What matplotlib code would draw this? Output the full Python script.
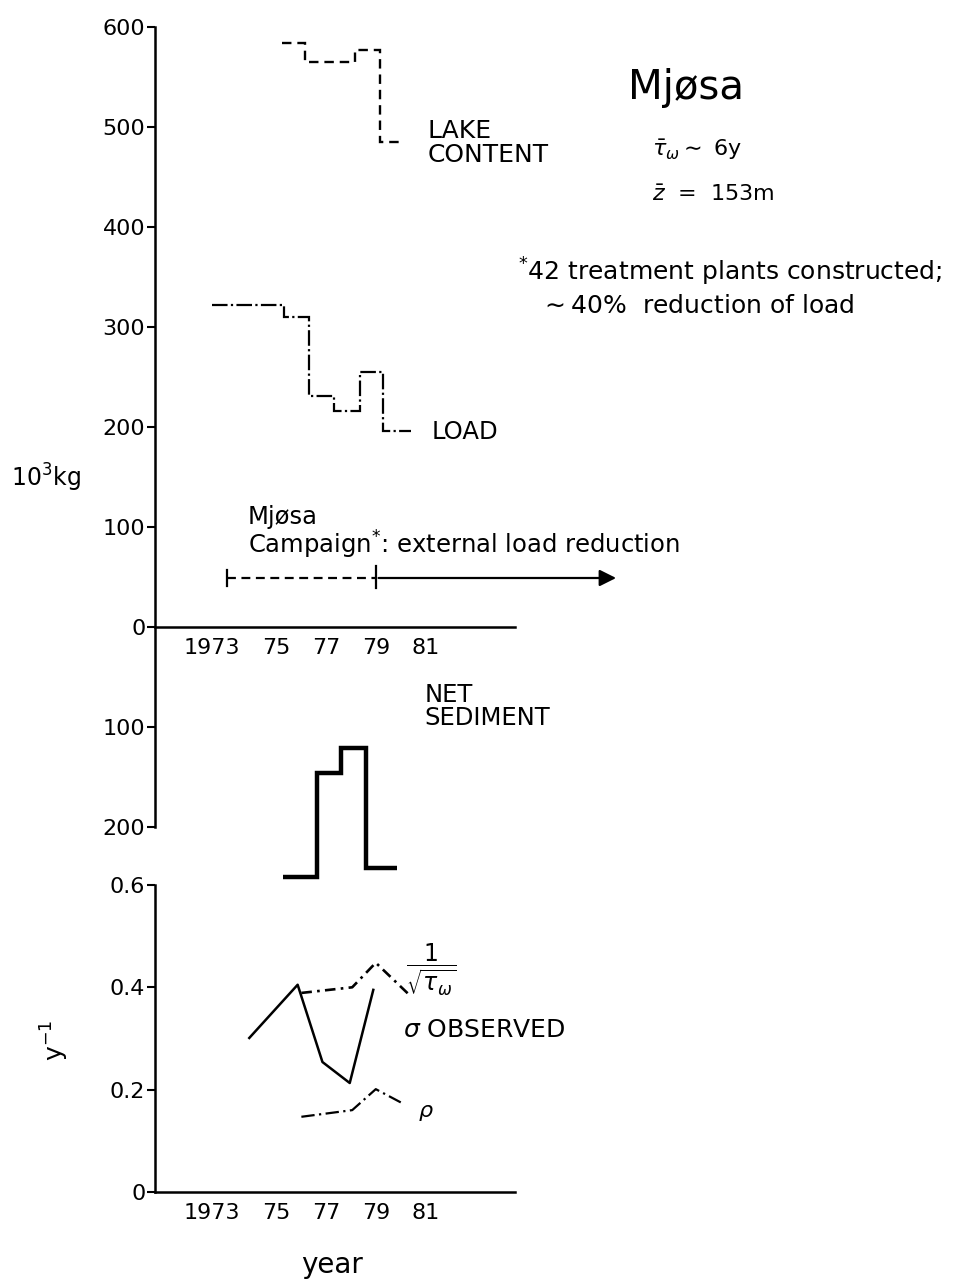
import matplotlib
matplotlib.use('Agg')
import matplotlib.pyplot as plt
import matplotlib.transforms as mtransforms

plt.rcParams['font.family'] = ['DejaVu Sans']
plt.rcParams['mathtext.fontset'] = 'dejavusans'

# --- data ---
year_ticks = [1973, 1975, 1977, 1979, 1981]
year_labels = ['1973', '75', '77', '79', '81']

# step series (10^3 kg), edges in years
lake_edges = [1975.2, 1976.15, 1978.15, 1979.15, 1980.1]
lake_values = [584, 565, 577, 485]

load_edges = [1972.4, 1975.3, 1976.3, 1977.3, 1978.35, 1979.3, 1980.4]
load_values = [322, 310, 231, 216, 255, 196]

# net sediment plotted downward
sed_edges = [1975.25, 1976.65, 1977.6, 1978.6, 1979.85]
sed_values = [250, 146, 121, 241]

# campaign arrow
campaign_start = 1973
campaign_switch = 1979
campaign_end = 1988.8
campaign_level = 49

# rates (y^-1)
sigma_years = [1973.9, 1975.85, 1976.85, 1977.95, 1978.9]
sigma_values = [0.301, 0.405, 0.254, 0.213, 0.395]

flush_years = [1976.0, 1978.05, 1979.0, 1980.4]
flush_values = [0.389, 0.400, 0.448, 0.383]

rho_years = [1976.0, 1978.05, 1979.0, 1980.05]
rho_values = [0.147, 0.160, 0.201, 0.174]

fig = plt.figure(figsize=(9.54, 12.87), dpi=100)

xlim = (1970.1, 1984.6)

# top panel: loads and lake content, sediment drawn below zero
ax = fig.add_axes([0.1625, 0.3147, 0.377, 0.6643])
ax.set_facecolor('none')
ax.set_xlim(*xlim)
ax.set_ylim(-255, 600)
ax.spines['top'].set_visible(False)
ax.spines['right'].set_visible(False)
ax.spines['bottom'].set_position(('data', 0))
ax.spines['left'].set_bounds(-200, 600)
for s in ['left', 'bottom']:
    ax.spines[s].set_linewidth(1.8)

yt = [-200, -100, 0, 100, 200, 300, 400, 500, 600]
ax.set_yticks(yt)
ax.set_yticklabels([str(abs(v)) for v in yt])
ax.tick_params(axis='y', direction='out', length=6, width=1.5, pad=1, labelsize=16)
ax.set_xticks(year_ticks)
ax.set_xticklabels(year_labels)
ax.tick_params(axis='x', length=0, pad=8, labelsize=16)

ax.stairs(lake_values, lake_edges, baseline=None, color='black', lw=1.7,
          linestyle=(0, (4, 2.5)))
ax.stairs(load_values, load_edges, baseline=None, color='black', lw=1.6,
          linestyle=(0, (7, 1.5, 1, 1.5)))
ax.stairs([-v for v in sed_values], sed_edges, baseline=None, color='black', lw=3.2)

# campaign arrow: dashed then solid
ax.plot([campaign_start, campaign_switch], [campaign_level, campaign_level],
        color='black', lw=1.6, linestyle=(0, (4, 2.5)))
ax.annotate('', xy=(campaign_end, campaign_level), xytext=(campaign_switch, campaign_level),
            arrowprops=dict(arrowstyle='-|>', color='black', lw=1.6, mutation_scale=25),
            annotation_clip=False)
ax.plot([campaign_start, campaign_start], [campaign_level - 8, campaign_level + 8],
        color='black', lw=1.6)
ax.plot([campaign_switch, campaign_switch], [campaign_level - 10, campaign_level + 12],
        color='black', lw=1.6)

ax.text(1981.1, 508, 'LAKE\nCONTENT', fontsize=18, va='top', ha='left', linespacing=1.0)
ax.text(1981.25, 195, 'LOAD', fontsize=17.5, va='center', ha='left')
ax.text(1973.85, 66, 'Mjøsa\nCampaign$^{*}$: external load reduction', fontsize=17.5,
        va='bottom', ha='left', linespacing=1.0)
ax.text(1980.95, -56, 'NET\nSEDIMENT', fontsize=17.5, va='top', ha='left', linespacing=0.95)

# bottom panel: rates
bx = fig.add_axes([0.1625, 0.0738, 0.377, 0.2386])
bx.set_facecolor('none')
bx.set_xlim(*xlim)
bx.set_ylim(0, 0.6)
bx.spines['top'].set_visible(False)
bx.spines['right'].set_visible(False)
for s in ['left', 'bottom']:
    bx.spines[s].set_linewidth(1.8)
bx.set_yticks([0, 0.2, 0.4, 0.6])
bx.set_yticklabels(['0', '0.2', '0.4', '0.6'])
bx.tick_params(axis='y', direction='out', length=6, width=1.5, pad=1, labelsize=16)
bx.set_xticks(year_ticks)
bx.set_xticklabels(year_labels)
bx.tick_params(axis='x', length=0, pad=8, labelsize=16)

bx.plot(sigma_years, sigma_values, color='black', lw=1.8)
bx.plot(flush_years, flush_values, color='black', lw=1.9, linestyle=(0, (4, 2, 1, 2)))
bx.plot(rho_years, rho_values, color='black', lw=1.6, linestyle=(0, (6, 2, 1, 2)))

bx.text(1980.1, 0.317, r'$\sigma$ OBSERVED', fontsize=18, va='center', ha='left')
bx.text(1980.7, 0.155, r'$\rho$', fontsize=16, va='center', ha='left')
bx.text(1980.2, 0.435, r'$\dfrac{1}{\sqrt{\tau_\omega}}$', fontsize=17, va='center', ha='left')

# shift the "1973" labels so the "73" sits over the year
for a in (ax, bx):
    lab = a.get_xticklabels()[0]
    lab.set_transform(lab.get_transform() +
                      mtransforms.ScaledTranslation(-0.15, 0, fig.dpi_scale_trans))

# axis captions and notes
fig.text(0.012, 1 - 478 / 1287, r'10$^{3}$kg', fontsize=17, va='center', ha='left')
fig.text(0.058, 1 - 1040 / 1287, r'y$^{-1}$', fontsize=18, va='center', ha='center', rotation=90)
fig.text(332 / 954, 1 - 1265 / 1287, 'year', fontsize=20, va='center', ha='center')

fig.text(628 / 954, 1 - 88 / 1287, 'Mjøsa', fontsize=29, va='center', ha='left')
fig.text(652 / 954, 1 - 150 / 1287, r'$\bar{\tau}_{\omega}\sim$ 6y', fontsize=16, va='center', ha='left')
fig.text(652 / 954, 1 - 195 / 1287, r'$\bar{z}$  =  153m', fontsize=16, va='center', ha='left')
fig.text(518 / 954, 1 - 272 / 1287, r'$^{*}$42 treatment plants constructed;', fontsize=18,
         va='center', ha='left')
fig.text(540 / 954, 1 - 306 / 1287, r'$\sim$40%  reduction of load', fontsize=18,
         va='center', ha='left')

fig.savefig('out.png', dpi=100)
